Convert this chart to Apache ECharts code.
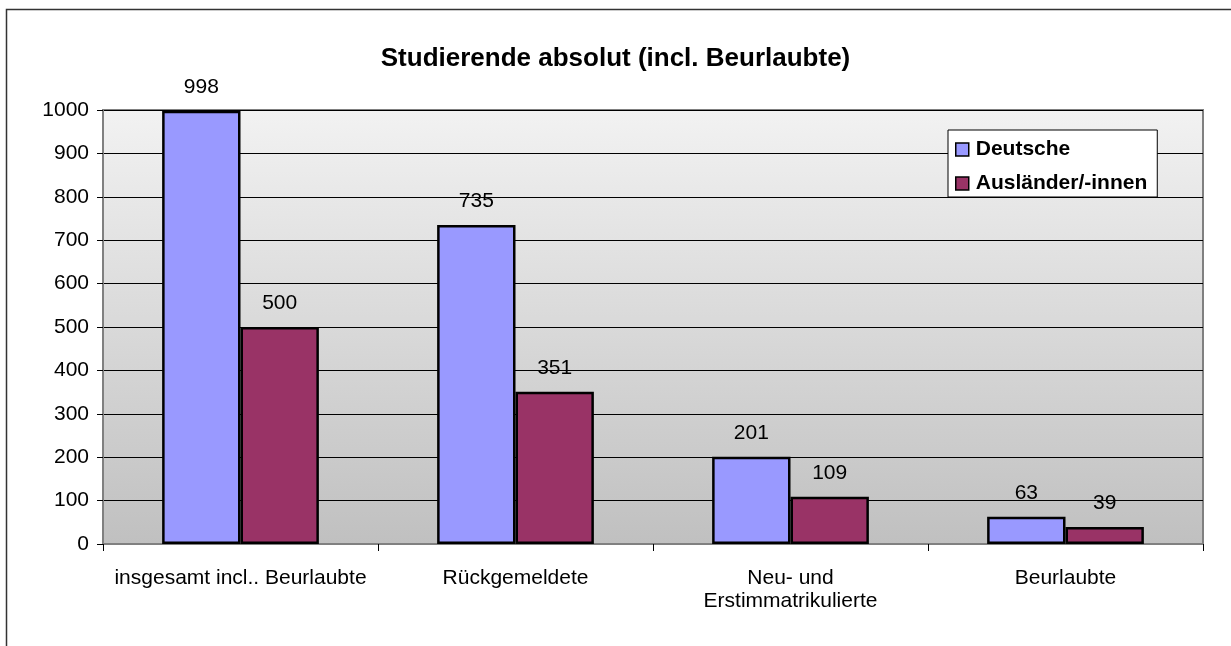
<!DOCTYPE html>
<html>
<head>
<meta charset="utf-8">
<script src="https://cdn.jsdelivr.net/npm/echarts@6/dist/echarts.min.js"></script>
<style>
  html, body { margin: 0; padding: 0; background: #fff; }
  #chart { width: 1231px; height: 646px; }
</style>
</head>
<body>
<div id="chart"></div>
<script>
  const categories = ['insgesamt incl.. Beurlaubte', 'Rückgemeldete', 'Neu- und\nErstimmatrikulierte', 'Beurlaubte'];
  const deutsche = [998, 735, 201, 63];
  const auslaender = [500, 351, 109, 39];
  const yTicks = { min: 0, max: 1000, interval: 100 };

  const font = 'Liberation Sans, Arial, sans-serif';

  const labelStyle = {
    show: true,
    position: 'top',
    distance: 13,
    color: '#000',
    fontSize: 21,
    fontFamily: font
  };

  const option = {
    animation: false,
    title: {
      text: 'Studierende absolut (incl. Beurlaubte)',
      left: 'center',
      top: 41,
      textStyle: { fontSize: 26, fontWeight: 'bold', color: '#000', fontFamily: font }
    },
    legend: {
      orient: 'vertical',
      left: 948,
      top: 130,
      itemWidth: 13,
      itemHeight: 13,
      itemGap: 13,
      padding: [9, 10, 3, 7],
      backgroundColor: '#fff',
      borderColor: '#000',
      borderWidth: 1,
      borderRadius: 0,
      icon: 'rect',
      itemStyle: { borderColor: '#000', borderWidth: 1.5 },
      textStyle: { fontSize: 21, fontWeight: 'bold', color: '#000', fontFamily: font, padding: [0, 0, 0, 2] },
      data: ['Deutsche', 'Ausländer/-innen']
    },
    grid: {
      left: 103,
      right: 28,
      top: 110,
      bottom: 102,
      show: true,
      borderColor: '#808080',
      borderWidth: 2,
      backgroundColor: new echarts.graphic.LinearGradient(0, 0, 0, 1, [
        { offset: 0, color: '#f2f2f2' },
        { offset: 1, color: '#c0c0c0' }
      ])
    },
    xAxis: {
      type: 'category',
      data: categories,
      axisLine: { lineStyle: { color: '#808080', width: 2 } },
      axisTick: { show: true, length: 7, lineStyle: { color: '#000' } },
      axisLabel: {
        color: '#000',
        fontSize: 21,
        fontFamily: font,
        margin: 23,
        lineHeight: 23,
        interval: 0
      }
    },
    yAxis: {
      type: 'value',
      min: yTicks.min,
      max: yTicks.max,
      interval: yTicks.interval,
      axisLine: { show: true, lineStyle: { color: '#808080', width: 2 } },
      axisTick: { show: true, length: 6, lineStyle: { color: '#000' } },
      axisLabel: { color: '#000', fontSize: 21, fontFamily: font, margin: 14, formatter: (v) => String(v) },
      splitLine: { lineStyle: { color: '#000', width: 1 } }
    },
    series: [
      {
        name: 'Deutsche',
        type: 'bar',
        data: deutsche,
        barGap: '0%',
        barCategoryGap: '43%',
        itemStyle: { color: '#9999ff', borderColor: '#000', borderWidth: 2.5 },
        label: labelStyle
      },
      {
        name: 'Ausländer/-innen',
        type: 'bar',
        data: auslaender,
        itemStyle: { color: '#993366', borderColor: '#000', borderWidth: 2.5 },
        label: labelStyle
      }
    ],
    graphic: [
      {
        type: 'rect',
        shape: { x: 6.5, y: 9.5, width: 1300, height: 700 },
        style: { fill: null, stroke: '#333', lineWidth: 1.5 },
        z: -1,
        silent: true
      }
    ]
  };

  var myChart = echarts.init(document.getElementById('chart'));
  myChart.setOption(option);
</script>
</body>
</html>
